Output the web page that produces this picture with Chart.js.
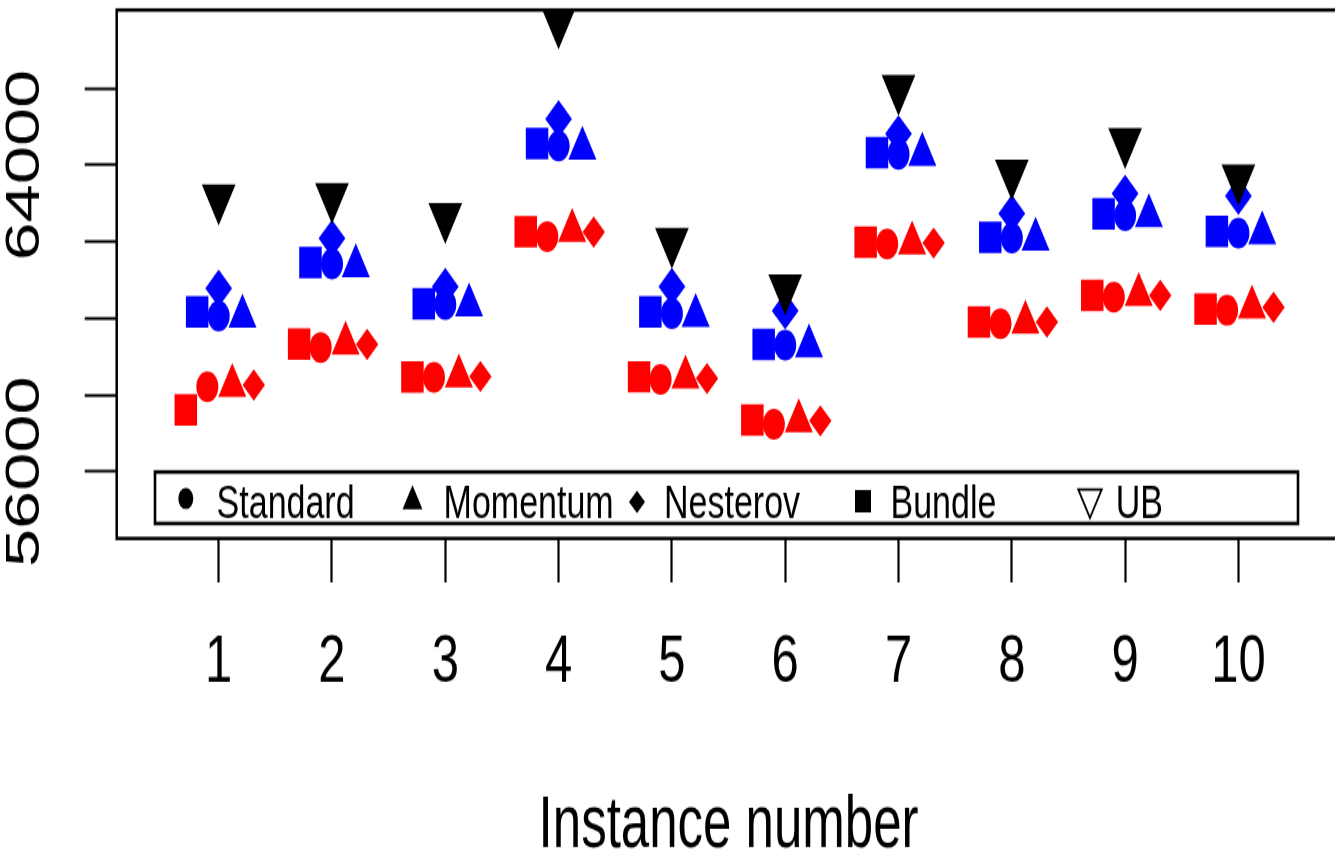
<!DOCTYPE html>
<html>
<head>
<meta charset="utf-8">
<title>Instance results</title>
<script src="https://cdn.jsdelivr.net/npm/chart.js@4.4.1/dist/chart.umd.min.js"></script>
<style>
  html, body { margin: 0; padding: 0; background: #fff; overflow: hidden; width: 1335px; height: 858px; }
  /* the figure is drawn at 1/1.4 height and stretched vertically */
  #stage { position: absolute; left: 0; top: 0; width: 1360px; height: 630px; transform: scaleY(1.4); transform-origin: 0 0; }
  canvas { display: block; }
</style>
</head>
<body>
<div id="stage"><canvas id="chart" width="1360" height="630"></canvas></div>
<script>
// ---- data ----
const instances = [1, 2, 3, 4, 5, 6, 7, 8, 9, 10];

// lower (red) group
const redStandard = [58215, 59242, 58462, 62136, 58410, 57240, 61941, 59861, 60555, 60210];
const redMomentum = [58243, 59351, 58495, 62287, 58462, 57326, 61964, 59897, 60620, 60290];
const redNesterov = [58259, 59320, 58483, 62250, 58431, 57326, 61964, 59905, 60599, 60290];
const redBundle   = [57609, 59328, 58470, 62258, 58475, 57349, 61985, 59905, 60599, 60240];

// upper (blue) group
const blueStandard = [60056, 61421, 60360, 64499, 60121, 59299, 64281, 62094, 62679, 62224];
const blueMomentum = [60056, 61364, 60345, 64434, 60072, 59276, 64276, 62065, 62671, 62224];
const blueNesterov = [60784, 62084, 60828, 65204, 60828, 60200, 64814, 62734, 63254, 63190];
const blueBundle   = [60165, 61457, 60381, 64564, 60165, 59320, 64325, 62115, 62721, 62266];

// upper bounds
const upperBound = [63134, 63176, 62656, 67726, 62006, 60794, 65994, 63784, 64606, 63654];

const yTickValues = [56000, 58000, 60000, 62000, 64000, 66000];
const yTickLabels = ['56000', '', '', '', '64000', ''];
const legendLabels = ['Standard', 'Momentum', 'Nesterov', 'Bundle', 'UB'];
const xTitle = 'Instance number';

// ---- styling ----
const FONT = "'Liberation Sans', Arial, Helvetica, sans-serif";
const RED = '#ff0000', BLUE = '#0000ff', BLACK = '#000000';

function series(label, values, offset, color, style, radius, order, rotation) {
  return {
    label: label,
    order: order,
    data: instances.map((inst, i) => ({ x: inst + offset, y: values[i] })),
    showLine: false,
    pointStyle: style,
    pointRadius: radius,
    pointHoverRadius: radius,
    pointRotation: rotation || 0,
    pointBackgroundColor: color,
    pointBorderColor: color,
    pointBorderWidth: 0,
    backgroundColor: color,
    borderColor: color,
    clip: 0
  };
}

const datasets = [
  series('UB', upperBound, 0, BLACK, 'triangle', 19.5, 0, 180),
  series('Nesterov (blue)', blueNesterov, 0.0, BLUE, 'rectRot', 13.4, 1),
  series('Standard (blue)', blueStandard, 0.0, BLUE, 'circle', 11, 2),
  series('Bundle (blue)', blueBundle, -0.19, BLUE, 'rect', 15.9, 3),
  series('Momentum (blue)', blueMomentum, 0.21, BLUE, 'triangle', 16.2, 4),
  series('Bundle (red)', redBundle, -0.29, RED, 'rect', 15.9, 5),
  series('Standard (red)', redStandard, -0.10, RED, 'circle', 11, 6),
  series('Momentum (red)', redMomentum, 0.12, RED, 'triangle', 16.2, 7),
  series('Nesterov (red)', redNesterov, 0.31, RED, 'rectRot', 11.2, 8)
];

// frame around the plotting region
const framePlugin = {
  id: 'frame',
  afterDatasetsDraw(chart) {
    const a = chart.chartArea, ctx = chart.ctx;
    ctx.save();
    ctx.strokeStyle = BLACK;
    ctx.lineWidth = 2.5;
    ctx.strokeRect(a.left, a.top, a.right - a.left, a.bottom - a.top);
    ctx.restore();
  }
};

// legend key symbols
function legendSymbol(ctx, kind, x, y) {
  ctx.beginPath();
  if (kind === 'circle') {
    ctx.arc(x, y, 7.5, 0, Math.PI * 2);
    ctx.fill();
  } else if (kind === 'triangle') {
    const r = 11.5, h = r * Math.sqrt(3) / 2;
    ctx.moveTo(x, y - r);
    ctx.lineTo(x + h, y + r / 2);
    ctx.lineTo(x - h, y + r / 2);
    ctx.closePath();
    ctx.fill();
  } else if (kind === 'diamond') {
    const r = 8;
    ctx.moveTo(x, y - r); ctx.lineTo(x + r, y); ctx.lineTo(x, y + r); ctx.lineTo(x - r, y);
    ctx.closePath();
    ctx.fill();
  } else if (kind === 'square') {
    ctx.rect(x - 8, y - 8, 16, 16);
    ctx.fill();
  } else if (kind === 'downOpen') {
    const r = 13.5, h = r * Math.sqrt(3) / 2;
    ctx.moveTo(x, y + r);
    ctx.lineTo(x + h, y - r / 2);
    ctx.lineTo(x - h, y - r / 2);
    ctx.closePath();
    ctx.lineWidth = 1.8;
    ctx.stroke();
  }
}

// boxed horizontal legend inside the plotting region
const legendPlugin = {
  id: 'boxedLegend',
  afterDraw(chart) {
    const ctx = chart.ctx;
    ctx.save();
    ctx.fillStyle = '#ffffff';
    ctx.fillRect(155, 337.1, 1143, 36.8);
    ctx.strokeStyle = BLACK;
    ctx.lineWidth = 2.6;
    ctx.strokeRect(155, 337.1, 1143, 36.8);

    const symbols = ['circle', 'triangle', 'diamond', 'square', 'downOpen'];
    const symbolX = [185.8, 412.5, 637, 863, 1090];
    const symbolY = [356.1, 357.9, 358.6, 358.0, 356.4];
    const textX = [216.6, 443.6, 664, 890.5, 1115.7];
    ctx.fillStyle = BLACK;
    ctx.strokeStyle = BLACK;
    ctx.font = '34px ' + FONT;
    ctx.textBaseline = 'alphabetic';
    ctx.textAlign = 'left';
    legendLabels.forEach((label, i) => {
      legendSymbol(ctx, symbols[i], symbolX[i], symbolY[i]);
      ctx.fillText(label, textX[i], 370.3);
    });
    ctx.restore();
  }
};

new Chart(document.getElementById('chart'), {
  type: 'scatter',
  data: { datasets: datasets },
  options: {
    responsive: false,
    animation: false,
    events: [],
    devicePixelRatio: 1,
    layout: { autoPadding: false, padding: { left: 0, top: 7.14, right: 19.6, bottom: 0 } },
    plugins: {
      legend: { display: false },
      tooltip: { enabled: false },
      title: { display: false }
    },
    scales: {
      x: {
        type: 'linear',
        position: 'bottom',
        min: 0.1,
        max: 10.9,
        afterBuildTicks: (scale) => { scale.ticks = instances.map(v => ({ value: v })); },
        afterFit: (scale) => {
          scale.height = 630 - 384.6;
          scale.paddingLeft = 0; scale.paddingRight = 0;
        },
        border: { display: false },
        grid: { drawOnChartArea: false, drawTicks: true, tickLength: 31.4, tickWidth: 2.2, tickColor: BLACK },
        ticks: {
          autoSkip: false, minRotation: 0, maxRotation: 0, padding: 28,
          color: BLACK, font: { family: FONT, size: 49 },
          callback: (v) => String(v)
        },
        title: {
          display: true, text: xTitle, color: BLACK,
          font: { family: FONT, size: 51 },
          padding: { top: 0, bottom: 8 }
        }
      },
      y: {
        type: 'linear',
        position: 'left',
        min: 54258,
        max: 68043,
        afterBuildTicks: (scale) => { scale.ticks = yTickValues.map(v => ({ value: v })); },
        afterFit: (scale) => {
          scale.width = 116.7;
          scale.paddingTop = 0; scale.paddingBottom = 0;
        },
        border: { display: false },
        grid: { drawOnChartArea: false, drawTicks: true, tickLength: 32, tickWidth: 2.2, tickColor: BLACK },
        ticks: {
          autoSkip: false, minRotation: 90, maxRotation: 90, crossAlign: 'center', padding: -9,
          color: BLACK, font: { family: FONT, size: 49 },
          callback: (v) => { const k = yTickValues.indexOf(v); return k >= 0 ? yTickLabels[k] : ''; }
        }
      }
    }
  },
  plugins: [framePlugin, legendPlugin]
});
</script>
</body>
</html>
